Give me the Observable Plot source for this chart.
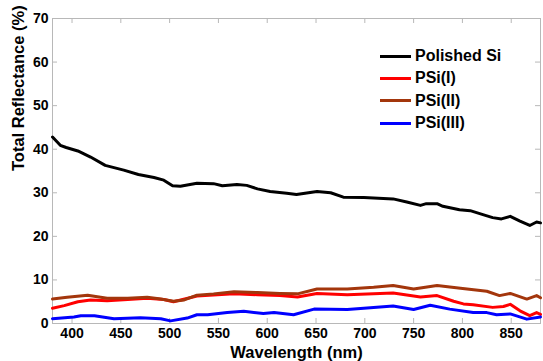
<!DOCTYPE html>
<html>
<head>
<meta charset="utf-8">
<script src="https://cdn.jsdelivr.net/npm/d3@7"></script>
<script src="https://cdn.jsdelivr.net/npm/@observablehq/plot@0.6"></script>
<style>
  html, body { margin: 0; padding: 0; background: #fff; }
  #wrap { position: relative; width: 543px; height: 361px; font-family: Arial, "Liberation Sans", sans-serif; }
  #legend { position: absolute; left: 380px; top: 45px; }
  .row { display: flex; align-items: center; height: 22.3px; }
  .sw { width: 31px; height: 3px; margin-right: 4px; }
  .lab { font-size: 16px; font-weight: bold; color: #000; line-height: 1; }
</style>
</head>
<body>
<div id="wrap"></div>
<script>
const seriesNames = ["Polished Si", "PSi(I)", "PSi(II)", "PSi(III)"];
const seriesColors = ["#000000", "#ff0000", "#a3360c", "#0000ff"];

const wlPolished = [380,388,394,406,419,434,453,468,484,494,503,511,528,545,554,569,579,590,603,620,630,651,665,678,699,729,743,757,763,774,780,797,808,821,831,840,849,859,869,876,880];
const rPolished  = [42.8,40.9,40.4,39.6,38.2,36.3,35.2,34.2,33.5,32.9,31.6,31.5,32.2,32.1,31.6,31.9,31.7,30.9,30.3,29.9,29.6,30.3,30.0,29.0,28.9,28.6,27.9,27.1,27.5,27.5,26.9,26.1,25.9,25.0,24.3,24.0,24.6,23.5,22.5,23.3,23.1];

const wlPSi1 = [380,392,406,419,436,457,477,494,504,528,566,590,613,631,651,682,709,729,757,774,791,801,811,831,842,849,859,869,876,880];
const rPSi1  = [3.5,4.1,5.0,5.4,5.2,5.5,5.8,5.5,5.0,6.3,6.8,6.6,6.4,6.1,6.9,6.6,6.8,7.0,6.1,6.4,5.1,4.5,4.3,3.7,3.9,4.4,2.9,1.8,2.5,2.1];

const wlPSi2 = [380,395,416,436,457,477,491,504,515,528,545,566,590,613,631,651,682,709,729,750,774,798,825,838,849,866,876,880];
const rPSi2  = [5.6,6.0,6.5,5.8,5.8,6.0,5.6,5.1,5.4,6.5,6.8,7.3,7.1,6.9,6.8,7.9,7.9,8.3,8.7,7.9,8.7,8.1,7.4,6.4,6.9,5.6,6.4,5.9];

const wlPSi3 = [380,402,409,423,443,470,491,501,518,528,539,559,576,596,607,627,648,682,699,729,750,767,787,811,825,835,849,866,880];
const rPSi3  = [1.1,1.5,1.8,1.8,1.1,1.3,1.1,0.6,1.25,2.0,2.0,2.5,2.8,2.3,2.5,2.0,3.3,3.2,3.5,4.0,3.2,4.2,3.3,2.5,2.5,2.0,2.2,1.0,1.5];

const xTicks = [400,450,500,550,600,650,700,750,800,850];
const yTicks = [0,10,20,30,40,50,60,70];

const wls = [wlPolished, wlPSi1, wlPSi2, wlPSi3];
const rs = [rPolished, rPSi1, rPSi2, rPSi3];
const data = seriesNames.flatMap((name, i) => wls[i].map((w, j) => ({series: name, wl: w, r: rs[i][j]})));

const gray = "#b8b8b8";
const chart = Plot.plot({
  width: 543,
  height: 361,
  marginLeft: 52,
  marginRight: 3,
  marginTop: 18,
  marginBottom: 38,
  style: {fontFamily: 'Arial, "Liberation Sans", sans-serif', background: "#fff", color: "#000"},
  x: {domain: [380, 880]},
  y: {domain: [0, 70]},
  color: {domain: seriesNames, range: seriesColors},
  marks: [
    Plot.frame({stroke: gray}),
    Plot.ruleX(xTicks, {x: d => d, stroke: gray, insetTop: 300}),
    Plot.ruleX(xTicks, {x: d => d, stroke: gray, insetBottom: 300}),
    Plot.ruleY(yTicks.slice(1, -1), {y: d => d, stroke: gray, insetRight: 483}),
    Plot.ruleY(yTicks.slice(1, -1), {y: d => d, stroke: gray, insetLeft: 483}),
    Plot.line(data, {x: "wl", y: "r", z: "series", stroke: "series", strokeWidth: 3}),
    Plot.axisX({ticks: xTicks, tickSize: 0, tickPadding: 5, label: null, fontSize: 14, fontWeight: "bold"}),
    Plot.axisY({ticks: yTicks, tickSize: 0, tickPadding: 4, label: null, fontSize: 14, fontWeight: "bold"}),
    Plot.text(["Wavelength (nm)"], {frameAnchor: "bottom", dy: 29.5, lineAnchor: "middle", fontSize: 16.5, fontWeight: "bold", fill: "#000"}),
    Plot.text(["Total Reflectance (%)"], {frameAnchor: "left", dx: -33.5, rotate: -90, lineAnchor: "middle", fontSize: 16.5, fontWeight: "bold", fill: "#000"})
  ]
});
const wrap = document.getElementById("wrap");
wrap.appendChild(chart);

const legend = document.createElement("div");
legend.id = "legend";
seriesNames.forEach((name, i) => {
  const row = document.createElement("div");
  row.className = "row";
  const sw = document.createElement("div");
  sw.className = "sw";
  sw.style.background = seriesColors[i];
  const lab = document.createElement("span");
  lab.className = "lab";
  lab.textContent = name;
  row.appendChild(sw);
  row.appendChild(lab);
  legend.appendChild(row);
});
wrap.appendChild(legend);
</script>
</body>
</html>
